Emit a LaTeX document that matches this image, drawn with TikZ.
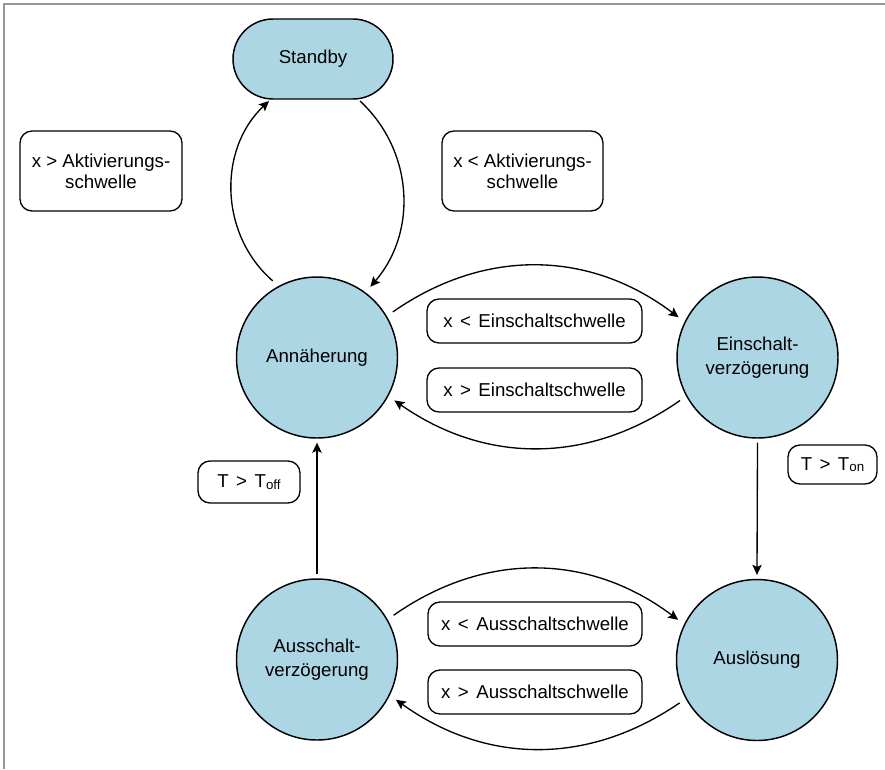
\documentclass[tikz,border=0pt]{standalone}
\usepackage{fontspec}
\setmainfont{Liberation Sans}
\usetikzlibrary{arrows.meta}
\definecolor{stfill}{RGB}{173,214,229}
\definecolor{framegray}{RGB}{150,150,150}
\newcommand{\subtext}[1]{\raisebox{-1pt}{\fontsize{10}{12}\selectfont #1}}
\begin{document}
\begin{tikzpicture}[x=0.75pt,y=0.75pt,
  state/.style={circle,draw=black,fill=stfill,line width=1.1pt,minimum size=120.75pt,inner sep=0pt,outer sep=6pt,align=center,font=\fontsize{14}{18.5}\selectfont},
  stby/.style={rectangle,rounded corners=30pt,draw=black,fill=stfill,line width=1.1pt,minimum width=120pt,minimum height=60pt,outer sep=1.5pt,font=\fontsize{14}{18}\selectfont},
  cond/.style={rectangle,rounded corners=9pt,draw=black,line width=1pt,inner sep=0pt,align=center,font=\fontsize{14}{16}\selectfont},
  arr/.style={line width=1pt,-{Stealth[length=7.5pt,width=7pt,inset=1.5pt]}},
  straight/.style={arr,shorten <=-2.5pt,shorten >=-2.5pt},
]
\useasboundingbox (0,0) rectangle (885,-769);
\draw[framegray,line width=1.5pt] (4,-769) -- (4,-4) -- (885,-4);

% states
\node[stby] (S) at (313,-59) {Standby};
\node[state] (A) at (317,-357.5) {Annäherung};
\node[state] (E) at (757.5,-357.5) {Einschalt-\\verzögerung};
\node[state] (L) at (757,-660) {Auslösung};
\node[state] (V) at (317,-659.5) {Ausschalt-\\verzögerung};

% conditions
\node[cond,minimum width=121.5pt,minimum height=60pt] (c1) at (101,-171) {x > Aktivierungs-\\schwelle};
\node[cond,minimum width=120.75pt,minimum height=60pt] (c2) at (522.5,-171) {x < Aktivierungs-\\schwelle};
\node[cond,minimum width=161.25pt,minimum height=33pt] (c3) at (534.5,-321) {x\hspace{0.4em}<\hspace{0.4em}Einschaltschwelle};
\node[cond,minimum width=161.25pt,minimum height=33pt] (c4) at (534.5,-390) {x\hspace{0.4em}>\hspace{0.4em}Einschaltschwelle};
\node[cond,minimum width=66.75pt,minimum height=29.25pt] (c5) at (832.5,-464.5) {T\hspace{0.4em}>\hspace{0.4em}T\subtext{on}};
\node[cond,minimum width=76.5pt,minimum height=31.5pt] (c6) at (249,-482) {T\hspace{0.4em}>\hspace{0.4em}T\subtext{off}};
\node[cond,minimum width=160.5pt,minimum height=33pt] (c7) at (535,-624) {x\hspace{0.4em}<\hspace{0.4em}Ausschaltschwelle};
\node[cond,minimum width=160.5pt,minimum height=33pt] (c8) at (535,-692) {x\hspace{0.4em}>\hspace{0.4em}Ausschaltschwelle};

% connectors
\draw[arr] (A.120) to[bend left=48] ([shift={(38,0)}]S.south west);
\draw[arr] ([shift={(-35,0)}]S.south east) to[bend left=44] (A.53);
\draw[arr] (A.31) to[bend left=36] (E.153);
\draw[arr] (E.209) to[bend left=35] (A.331);
\draw[straight] (E.south) -- (L.north);
\draw[straight] (V.north) -- (A.south);
\draw[arr] (V.30) to[bend left=36] (L.153);
\draw[arr] (L.209) to[bend left=35] (V.333);
\end{tikzpicture}
\end{document}
